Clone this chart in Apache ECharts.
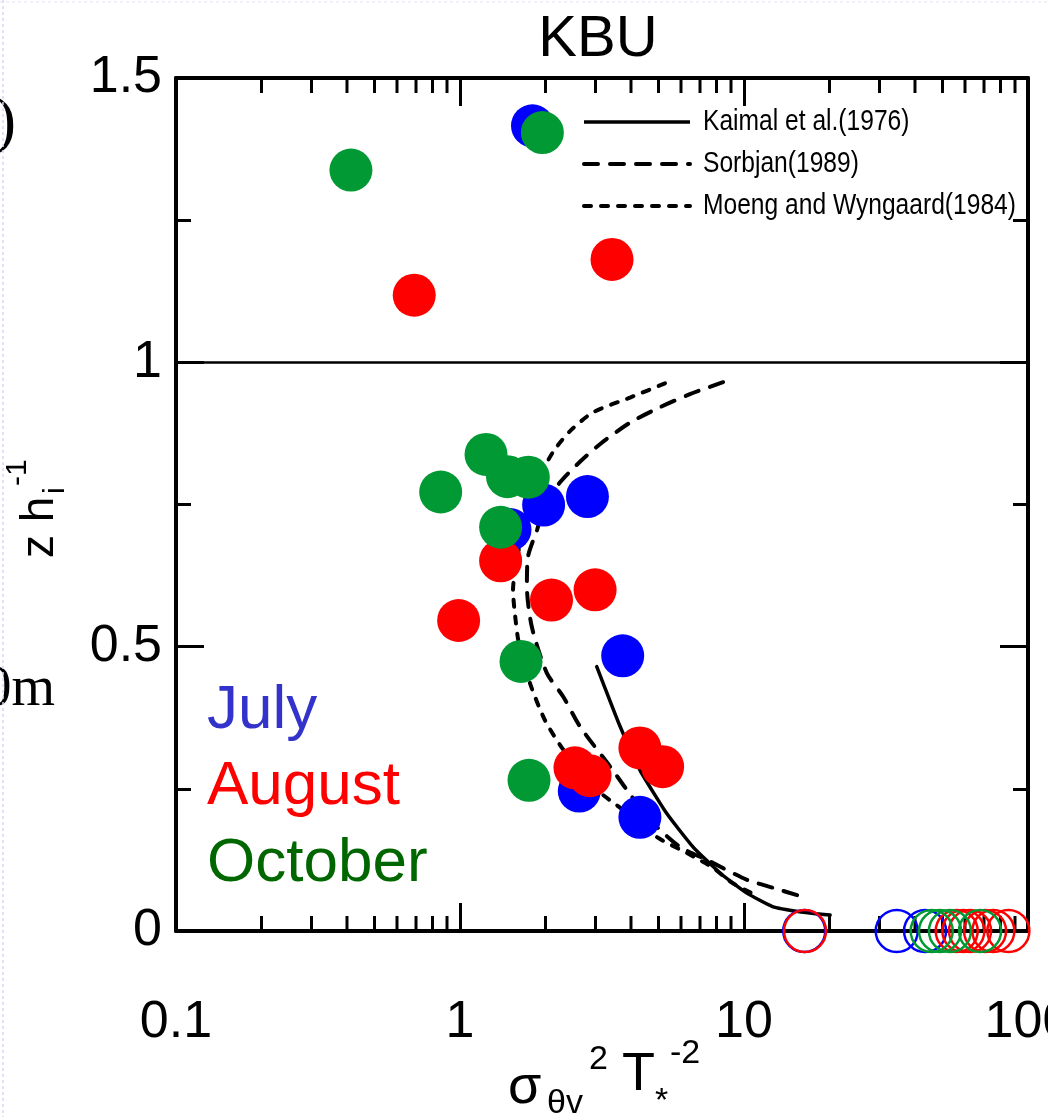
<!DOCTYPE html>
<html>
<head>
<meta charset="utf-8">
<script src="https://cdn.jsdelivr.net/npm/echarts@6/dist/echarts.min.js"></script>
<style>
  html, body { margin: 0; padding: 0; background: #fff; }
  #chart { width: 1048px; height: 1117px; }
</style>
</head>
<body>
<div id="chart"></div>
<script>
// Normalised temperature variance (sigma_thetav^2 / T*^2) against z / h_i
const julyX    = [1.80, 1.97, 2.81, 1.50, 3.74, 2.63, 4.30];
const julyZ    = [1.416, 0.749, 0.764, 0.706, 0.484, 0.246, 0.200];
const augustX  = [3.43, 0.69, 1.39, 2.10, 2.99, 0.989, 4.30, 5.17, 2.54, 2.87];
const augustZ  = [1.181, 1.118, 0.651, 0.582, 0.600, 0.546, 0.322, 0.289, 0.287, 0.273];
const octoberX = [1.95, 0.413, 1.235, 1.47, 1.74, 0.855, 1.39, 1.64, 1.75];
const octoberZ = [1.404, 1.338, 0.838, 0.799, 0.798, 0.772, 0.710, 0.474, 0.265];

// surface values (z / h_i = 0), open circles
const julySurfaceX    = [16.3, 34.5, 43.4];
const augustSurfaceX  = [16.4, 56.1, 59.2, 62.5, 70.6, 75.5, 85.3];
const octoberSurfaceX = [45.8, 49.0, 53.1, 67.8];

// reference profiles
const kaimalX  = [3.03, 3.66, 4.30, 5.34, 6.61, 8.23, 10.2, 12.6, 15.7, 20.1];
const kaimalZ  = [0.465, 0.360, 0.283, 0.207, 0.148, 0.102, 0.067, 0.043, 0.034, 0.028];
const sorbjanX = [8.44, 6.45, 5.06, 3.97, 3.11, 2.58, 2.25, 1.99, 1.87, 1.735, 1.72, 1.79, 2.02, 2.31, 2.65, 3.38, 3.87, 4.67, 5.95, 7.41, 10.25, 12.65, 16.1];
const sorbjanZ = [0.965, 0.944, 0.921, 0.894, 0.856, 0.820, 0.789, 0.750, 0.706, 0.658, 0.606, 0.535, 0.454, 0.412, 0.359, 0.289, 0.248, 0.195, 0.148, 0.125, 0.090, 0.076, 0.060];
const moengX   = [5.27, 3.97, 2.94, 2.44, 2.13, 1.91, 1.76, 1.65, 1.575, 1.537, 1.562, 1.614, 1.76, 1.99, 2.31, 2.94, 3.75, 4.94, 6.30, 7.78, 9.0, 10.6];
const moengZ   = [0.963, 0.938, 0.912, 0.879, 0.843, 0.799, 0.750, 0.697, 0.644, 0.600, 0.556, 0.504, 0.437, 0.371, 0.319, 0.254, 0.213, 0.165, 0.137, 0.111, 0.086, 0.067];

// axis ticks
const xTickLabels = { 0.1: '0.1', 1: '1', 10: '10', 100: '100' };
const xMinorTicks = [0.2, 0.3, 0.4, 0.5, 0.6, 0.7, 0.8, 0.9, 2, 3, 4, 5, 6, 7, 8, 9, 20, 30, 40, 50, 60, 70, 80, 90];

const lineNames = ['Kaimal et al.(1976)', 'Sorbjan(1989)', 'Moeng and Wyngaard(1984)'];
const monthNames = ['July', 'August', 'October'];

const BLUE = '#0000ff', RED = '#ff0000', GREEN = '#009933';
const SANS = 'Liberation Sans, Arial, sans-serif';
const SERIF = 'Liberation Serif, Times New Roman, serif';
const DASH_LONG = [14, 12];
const DASH_SHORT = [7, 10];

const zip = (xs, zs) => xs.map((x, i) => [x, zs[i]]);
const atSurface = xs => xs.map(x => [x, 0]);

const chart = echarts.init(document.getElementById('chart'));

const axisLine = { show: true, onZero: false, lineStyle: { color: '#000', width: 4 } };
const tickStyle = { color: '#000', width: 3 };

function xAxisDef(position, showLabel) {
  return {
    type: 'log', logBase: 10, min: 0.1, max: 100, position: position,
    axisLine: axisLine,
    axisTick: { show: true, inside: true, length: 28, lineStyle: tickStyle },
    minorTick: { show: false },
    splitLine: { show: false },
    axisLabel: {
      show: showLabel, margin: 66, fontSize: 52, color: '#000', fontFamily: SANS,
      hideOverlap: false,
      formatter: v => xTickLabels[parseFloat(Number(v).toPrecision(6))] || ''
    }
  };
}
function yAxisDef(position, showLabel) {
  return {
    type: 'value', min: 0, max: 1.5, interval: 0.5, position: position,
    axisLine: axisLine,
    axisTick: { show: true, inside: true, length: 28, lineStyle: tickStyle },
    minorTick: { show: true, splitNumber: 2, length: 15, lineStyle: tickStyle },
    splitLine: { show: false },
    axisLabel: {
      show: showLabel, margin: 14, fontSize: 52, color: '#000', fontFamily: SANS,
      formatter: v => String(v)
    }
  };
}

function filled(name, data, color) {
  return {
    type: 'scatter', name: name, data: data, symbol: 'circle', symbolSize: 43,
    itemStyle: { color: color, opacity: 1 }, silent: true, z: 4
  };
}
function hollow(name, data, color) {
  return {
    type: 'scatter', name: name, data: data, symbol: 'circle', symbolSize: 42, clip: false,
    itemStyle: { color: 'rgba(0,0,0,0)', borderColor: color, borderWidth: 2.5, opacity: 1 },
    silent: true, z: 4
  };
}
function profile(name, data, type) {
  return {
    type: 'line', name: name, data: data, symbol: 'none', smooth: type === 'solid' ? 0.15 : 0.25,
    lineStyle: { color: '#000', width: type === 'solid' ? 3.5 : 4, type: type, cap: 'round' },
    itemStyle: { color: '#000' }, silent: true, z: 3
  };
}

const kaimal = profile(lineNames[0], zip(kaimalX, kaimalZ), 'solid');
kaimal.markLine = {
  symbol: 'none', silent: true, label: { show: false },
  lineStyle: { color: '#000', width: 2.5, type: 'solid' },
  data: [{ yAxis: 1 }]
};

// key for the three reference profiles
const keyDashes = [null, DASH_LONG, DASH_SHORT];
const keyRows = [122, 164, 206];
const keyGraphics = [];
lineNames.forEach((name, i) => {
  keyGraphics.push({
    type: 'line', shape: { x1: 584, y1: keyRows[i], x2: 690, y2: keyRows[i] },
    style: { stroke: '#000', lineWidth: i === 0 ? 3.5 : 4, lineDash: keyDashes[i], lineCap: i === 0 ? 'butt' : 'round' }
  });
  keyGraphics.push({
    type: 'text', x: 703, y: keyRows[i], scaleX: 0.82,
    style: { text: name, font: '30px ' + SANS, fill: '#000', verticalAlign: 'middle' }
  });
});

const option = {
  animation: false,
  backgroundColor: '#fff',
  grid: { left: 176, right: 20, top: 78, bottom: 186, containLabel: false, outerBoundsMode: 'none' },
  xAxis: [xAxisDef('bottom', true), xAxisDef('top', false)],
  yAxis: [yAxisDef('left', true), yAxisDef('right', false)],
  series: [
    {
      type: 'custom', name: 'minorTicks', data: atSurface(xMinorTicks), clip: false, silent: true, z: 1,
      renderItem: (params, api) => {
        const v = api.value(0);
        const b = api.coord([v, 0]);
        const t = api.coord([v, 1.5]);
        return {
          type: 'group', children: [
            { type: 'line', shape: { x1: b[0], y1: b[1], x2: b[0], y2: b[1] - 15 }, style: { stroke: '#000', lineWidth: 3 } },
            { type: 'line', shape: { x1: t[0], y1: t[1], x2: t[0], y2: t[1] + 15 }, style: { stroke: '#000', lineWidth: 3 } }
          ]
        };
      }
    },
    kaimal,
    profile(lineNames[1], zip(sorbjanX, sorbjanZ), DASH_LONG),
    profile(lineNames[2], zip(moengX, moengZ), DASH_SHORT),
    hollow(monthNames[0] + ' surface', atSurface(julySurfaceX), BLUE),
    hollow(monthNames[1] + ' surface', atSurface(augustSurfaceX), RED),
    hollow(monthNames[2] + ' surface', atSurface(octoberSurfaceX), GREEN),
    filled(monthNames[0], zip(julyX, julyZ), BLUE),
    filled(monthNames[1], zip(augustX, augustZ), RED),
    filled(monthNames[2], zip(octoberX, octoberZ), GREEN)
  ],
  graphic: keyGraphics.concat([
    { type: 'text', x: 598, y: 40, style: { text: 'KBU', font: '58px ' + SANS, fill: '#000', align: 'center', verticalAlign: 'middle' } },
    { type: 'text', x: 207, y: 711, style: { text: monthNames[0], font: '62px ' + SANS, fill: '#3333cc', verticalAlign: 'middle' } },
    { type: 'text', x: 207, y: 787, style: { text: monthNames[1], font: '62px ' + SANS, fill: '#ff0000', verticalAlign: 'middle' } },
    { type: 'text', x: 207, y: 864, style: { text: monthNames[2], font: '62px ' + SANS, fill: '#006600', verticalAlign: 'middle' } },
    // x axis title: sigma_thetav^2 T*^-2
    { type: 'text', x: 508, y: 1088, style: { text: 'σ', font: '54px ' + SANS, fill: '#000', verticalAlign: 'middle' } },
    { type: 'text', x: 547, y: 1104, style: { text: 'θv', font: '34px ' + SANS, fill: '#000', verticalAlign: 'middle' } },
    { type: 'text', x: 589, y: 1060, style: { text: '2', font: '34px ' + SANS, fill: '#000', verticalAlign: 'middle' } },
    { type: 'text', x: 622, y: 1075, style: { text: 'T', font: '54px ' + SANS, fill: '#000', verticalAlign: 'middle' } },
    { type: 'text', x: 655, y: 1102, style: { text: '*', font: '34px ' + SANS, fill: '#000', verticalAlign: 'middle' } },
    { type: 'text', x: 670, y: 1054, style: { text: '-2', font: '34px ' + SANS, fill: '#000', verticalAlign: 'middle' } },
    // y axis title: z h_i^-1 (rotated)
    {
      type: 'group', x: 40, y: 558, rotation: Math.PI / 2,
      children: [
        { type: 'text', x: 0, y: 0, style: { text: 'z h', font: '46px ' + SANS, fill: '#000', verticalAlign: 'middle' } },
        { type: 'text', x: 64, y: 16, style: { text: 'i', font: '30px ' + SANS, fill: '#000', verticalAlign: 'middle' } },
        { type: 'text', x: 72, y: -22, style: { text: '-1', font: '30px ' + SANS, fill: '#000', verticalAlign: 'middle' } }
      ]
    },
    // fragments of neighbouring panel text at the left edge
    { type: 'text', x: 16, y: 124, style: { text: ')', font: '64px ' + SERIF, fill: '#000', align: 'right', verticalAlign: 'middle' } },
    { type: 'text', x: 55, y: 690, style: { text: '0m', font: '56px ' + SERIF, fill: '#000', align: 'right', verticalAlign: 'middle' } },
    { type: 'line', shape: { x1: 3, y1: 0, x2: 3, y2: 1117 }, style: { stroke: '#d6d6f4', lineWidth: 1.5, lineDash: [3, 3] } },
    { type: 'line', shape: { x1: 0, y1: 2, x2: 1048, y2: 2 }, style: { stroke: '#e4e4f6', lineWidth: 1, lineDash: [3, 3] } }
  ])
};

chart.setOption(option);
</script>
</body>
</html>
